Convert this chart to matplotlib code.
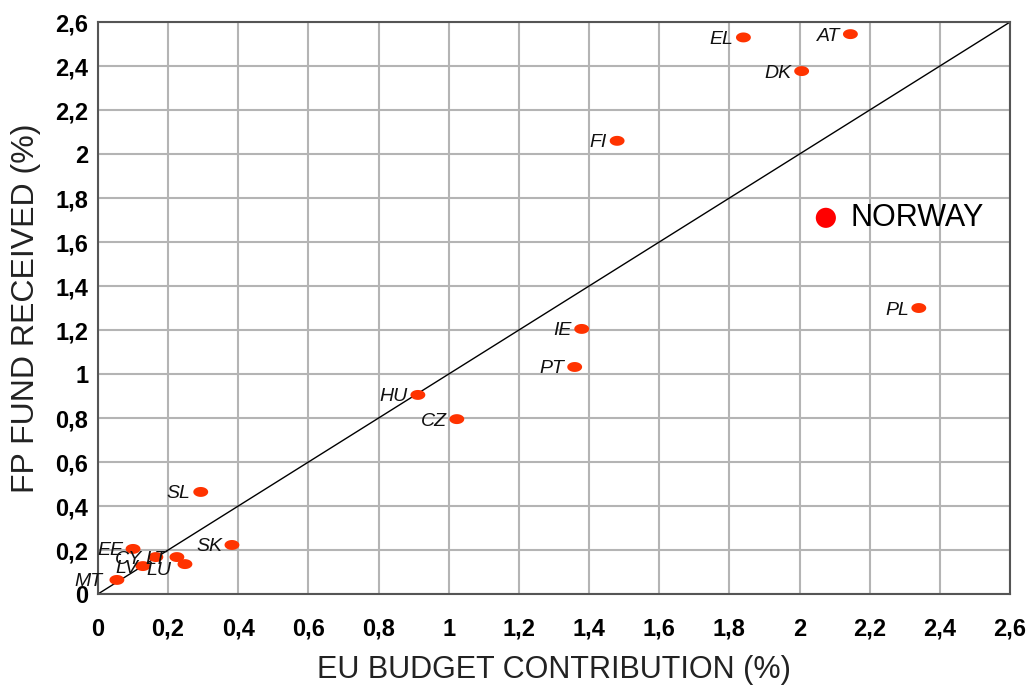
import numpy as np
import matplotlib
matplotlib.use('Agg')
import matplotlib.pyplot as plt
from matplotlib.path import Path
from matplotlib.ticker import FuncFormatter

# EU budget contribution (%) vs FP fund received (%)
countries = ['EL', 'AT', 'DK', 'FI', 'PL', 'IE', 'PT', 'HU', 'CZ', 'SL', 'SK',
             'EE', 'CY', 'LT', 'LU', 'LV', 'MT']
contribution = [1.84, 2.145, 2.006, 1.48, 2.34, 1.379, 1.359, 0.912, 1.023, 0.293, 0.382,
                0.10, 0.165, 0.225, 0.248, 0.128, 0.054]
fund_received = [2.53, 2.545, 2.377, 2.06, 1.30, 1.205, 1.032, 0.905, 0.795, 0.464, 0.223,
                 0.205, 0.168, 0.168, 0.136, 0.127, 0.064]

norway_contribution = 2.075
norway_received = 1.71

ticks = [0, 0.2, 0.4, 0.6, 0.8, 1, 1.2, 1.4, 1.6, 1.8, 2, 2.2, 2.4, 2.6]

# label shifts (pixels) for the crowded corner, as in the original
label_shift = {'CY': (-14, -2), 'LU': (-14, -6), 'LV': (-5, -2), 'MT': (-14, -2)}

sans = ['Liberation Sans', 'DejaVu Sans']

fig = plt.figure(figsize=(10.3, 6.95), dpi=100)
ax = fig.add_axes([0.0951, 0.1453, 0.8855, 0.823])

# diagonal: contribution == return
ax.plot([0, 2.6], [0, 2.6], color='black', lw=1, zorder=2)

# flat ellipse marker like the original
t = np.linspace(0, 2 * np.pi, 40)
ellipse = Path(np.column_stack([1.5 * np.cos(t), np.sin(t)]))
ax.scatter(contribution, fund_received, marker=ellipse, s=115, color='#ff3300',
           edgecolors='none', zorder=3)

for name, x, y in zip(countries, contribution, fund_received):
    ax.annotate(name, (x, y), xytext=label_shift.get(name, (-10, -2)),
                textcoords='offset pixels', ha='right', va='center',
                fontsize=14, style='italic', family=sans, color='#111111')

ax.scatter([norway_contribution], [norway_received], marker='o', s=210,
           color='#ff0000', edgecolors='none', zorder=3)
ax.annotate('NORWAY', (norway_contribution, norway_received), xytext=(25, 0),
            textcoords='offset pixels', ha='left', va='center', fontsize=22,
            family=sans)

ax.set_xlim(0, 2.6)
ax.set_ylim(0, 2.6)
ax.set_xticks(ticks)
ax.set_yticks(ticks)
fmt = FuncFormatter(lambda v, p: ('%g' % round(v, 1)).replace('.', ','))
ax.xaxis.set_major_formatter(fmt)
ax.yaxis.set_major_formatter(fmt)
for lab in ax.get_xticklabels() + ax.get_yticklabels():
    lab.set_fontsize(17)
    lab.set_fontweight('bold')
    lab.set_family(sans)
ax.tick_params(length=0)
ax.tick_params(axis='x', pad=17)
ax.tick_params(axis='y', pad=7)

ax.grid(True, color='#b4b4b4', lw=1.5, zorder=0)
ax.set_axisbelow(True)
for s in ax.spines.values():
    s.set_color('#555555')
    s.set_linewidth(1.5)

ax.set_xlabel('EU BUDGET CONTRIBUTION (%)', fontsize=22, labelpad=10,
              family=sans, color='#222222')
ax.set_ylabel('FP FUND RECEIVED (%)', fontsize=23, labelpad=10,
              family=sans, color='#222222')

fig.savefig('out.png', dpi=100)
